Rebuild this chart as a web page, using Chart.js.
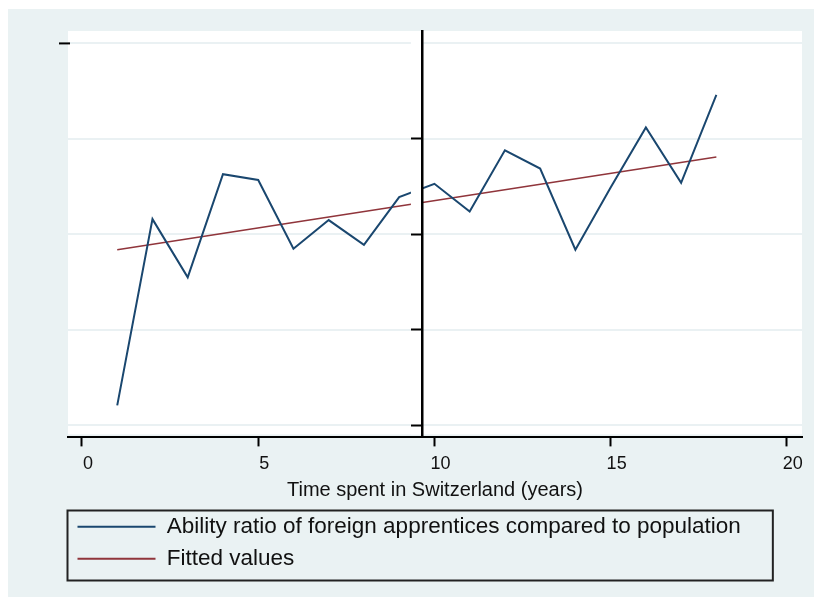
<!DOCTYPE html>
<html>
<head>
<meta charset="utf-8">
<script src="https://cdn.jsdelivr.net/npm/chart.js@4/dist/chart.umd.min.js"></script>
<style>
  html, body { margin: 0; padding: 0; background: #ffffff; }
  #wrap { width: 814px; height: 599px; }
</style>
</head>
<body>
<div id="wrap"><canvas id="c" width="814" height="599"></canvas></div>
<script>
// Years spent in Switzerland and the observed ability ratio per year
const YEARS = [1, 2, 3, 4, 5, 6, 7, 8, 9, 10, 11, 12, 13, 14, 15, 16, 17, 18];
const ABILITY_RATIO = [0.621, 0.816, 0.755, 0.863, 0.857, 0.785, 0.815, 0.789, 0.839,
                       0.853, 0.824, 0.888, 0.869, 0.784, 0.849, 0.912, 0.854, 0.946];

// Linear fit: end points of the fitted line
const FIT_YEARS = [1, 18];
const FIT_VALUES = [0.784, 0.881];

// Axis ticks and grid values
const X_TICKS = [0, 5, 10, 15, 20];
const Y_GRID = [0.6, 0.7, 0.8, 0.9, 1.0];
const DIVIDER_TICKS = [0.6, 0.7, 0.8, 0.9];
const DIVIDER_AT = 9.645;

const SERIES_LABELS = ['Ability ratio of foreign apprentices compared to population', 'Fitted values'];
const X_TITLE = 'Time spent in Switzerland (years)';

const FONT = '"Liberation Sans", Arial, Helvetica, sans-serif';
const BG_OUTER = '#EAF2F3';
const GRID = '#EAF1F3';
const BLUE = '#1A476F';
const RED = '#90353B';

const Y_MIN = 0.5874, Y_MAX = 1.013;

const backdrop = {
  id: 'backdrop',
  beforeDraw(chart) {
    const { ctx, chartArea: a } = chart;
    ctx.save();
    ctx.fillStyle = '#ffffff';
    ctx.fillRect(0, 0, chart.width, chart.height);
    ctx.fillStyle = BG_OUTER;
    ctx.fillRect(8, 9, chart.width - 8, chart.height - 11);
    ctx.fillStyle = '#ffffff';
    ctx.fillRect(a.left, a.top, a.right - a.left, a.bottom - a.top - 3);
    ctx.restore();
  }
};

// White band next to the divider axis, drawn over grid and lines
const dividerBand = {
  id: 'dividerBand',
  afterDatasetsDraw(chart) {
    const { ctx, chartArea: a, scales } = chart;
    const x0 = scales.x.getPixelForValue(DIVIDER_AT);
    ctx.save();
    ctx.fillStyle = '#ffffff';
    ctx.fillRect(x0 - 11, a.top, 11, a.bottom - a.top - 3);
    ctx.restore();
  }
};

// Frame around the legend and the lone tick on the left edge
const frames = {
  id: 'frames',
  afterDraw(chart) {
    const { ctx, chartArea: a, scales, legend } = chart;
    ctx.save();
    ctx.strokeStyle = '#000';
    ctx.lineWidth = 2;
    const yTop = scales.y.getPixelForValue(Y_GRID[Y_GRID.length - 1]);
    ctx.beginPath();
    ctx.moveTo(a.left - 9, yTop);
    ctx.lineTo(a.left + 2, yTop);
    ctx.stroke();

    const hb = legend.legendHitBoxes;
    if (hb && hb.length) {
      const left = hb[0].left - 10;
      const top = hb[0].top - 5;
      const right = Math.max(...hb.map(h => h.left + h.width)) + 32;
      const bottom = hb[hb.length - 1].top + 33;
      ctx.strokeStyle = '#222';
      ctx.lineWidth = 2;
      ctx.strokeRect(left, top, right - left, bottom - top);
    }
    ctx.restore();
  }
};

new Chart(document.getElementById('c'), {
  type: 'line',
  data: {
    datasets: [
      {
        label: SERIES_LABELS[0],
        data: YEARS.map((x, i) => ({ x, y: ABILITY_RATIO[i] })),
        borderColor: BLUE,
        backgroundColor: BLUE,
        borderWidth: 2,
        pointRadius: 0,
        tension: 0,
        fill: false
      },
      {
        label: SERIES_LABELS[1],
        data: FIT_YEARS.map((x, i) => ({ x, y: FIT_VALUES[i] })),
        borderColor: RED,
        backgroundColor: RED,
        borderWidth: 1.6,
        pointRadius: 0,
        tension: 0,
        fill: false
      }
    ]
  },
  options: {
    responsive: false,
    animation: false,
    devicePixelRatio: 1,
    layout: { padding: { left: 68, right: 12, top: 31, bottom: 19 } },
    plugins: {
      tooltip: { enabled: false },
      legend: {
        position: 'bottom',
        align: 'start',
        labels: {
          boxWidth: 78,
          boxHeight: 2,
          padding: 9.5,
          color: '#111',
          font: { size: 22.5, family: FONT },
          generateLabels(chart) {
            return chart.data.datasets.map((d, i) => ({
              text: d.label,
              fillStyle: d.borderColor,
              strokeStyle: d.borderColor,
              lineWidth: 0,
              hidden: false,
              datasetIndex: i,
              fontColor: '#111'
            }));
          }
        }
      }
    },
    scales: {
      x: {
        type: 'linear',
        min: -0.397,
        max: 20.43,
        afterBuildTicks(s) { s.ticks = X_TICKS.map(v => ({ value: v })); },
        ticks: {
          color: '#111',
          font: { size: 18, family: FONT },
          padding: 7,
          labelOffset: 6,
          maxRotation: 0,
          autoSkip: false
        },
        grid: {
          drawOnChartArea: false,
          drawTicks: true,
          tickLength: 9,
          tickWidth: 2,
          tickColor: '#000'
        },
        border: { display: true, color: '#000', width: 2 },
        title: {
          display: true,
          text: X_TITLE,
          color: '#111',
          font: { size: 20, family: FONT },
          padding: { top: -4, bottom: 4 }
        }
      },
      y: {
        type: 'linear',
        position: 'left',
        min: Y_MIN,
        max: Y_MAX,
        afterBuildTicks(s) { s.ticks = Y_GRID.map(v => ({ value: v })); },
        ticks: { display: false },
        grid: { color: GRID, lineWidth: 2, drawTicks: false },
        border: { display: false }
      },
      yDivider: {
        type: 'linear',
        axis: 'y',
        position: { x: DIVIDER_AT },
        min: Y_MIN,
        max: Y_MAX,
        afterBuildTicks(s) { s.ticks = DIVIDER_TICKS.map(v => ({ value: v })); },
        ticks: { display: false },
        grid: {
          z: 1,
          drawOnChartArea: false,
          drawTicks: true,
          tickLength: 10,
          tickWidth: 2,
          tickColor: '#000'
        },
        border: { z: 1, display: true, color: '#000', width: 2.5 }
      }
    }
  },
  plugins: [backdrop, dividerBand, frames]
});
</script>
</body>
</html>
